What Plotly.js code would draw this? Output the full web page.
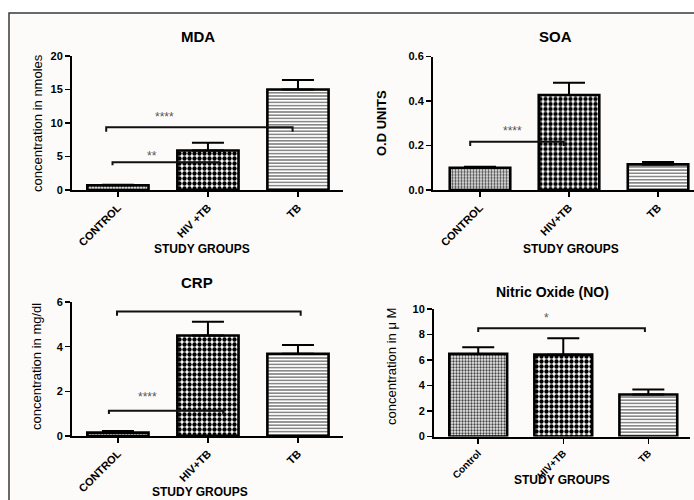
<!DOCTYPE html>
<html>
<head>
<meta charset="utf-8">
<script src="https://cdn.plot.ly/plotly-3.0.1.min.js"></script>
<style>html,body{margin:0;padding:0;background:#fff;}#chart{width:694px;height:500px;}</style>
</head>
<body>
<div id="chart"></div>
<script>
// ---------- data ----------
const groupsUpper = ['CONTROL', 'HIV +TB', 'TB'];
const groupsSOA = ['CONTROL', 'HIV+TB', 'TB'];
const groupsCRP = ['CONTROL', 'HIV+TB', 'TB'];
const groupsNO = ['Control', 'HIV+TB', 'TB'];

const mdaMean = [0.7, 5.9, 15.0];
const mdaErr  = [0.1, 1.15, 1.4];
const soaMean = [0.1, 0.427, 0.115];
const soaErr  = [0.004, 0.055, 0.011];
const crpMean = [0.15, 4.5, 3.68];
const crpErr  = [0.07, 0.62, 0.4];
const noMean  = [6.48, 6.42, 3.3];
const noErr   = [0.52, 1.29, 0.38];

// significance brackets: [xStart, xEnd, yLine, yTickEnd, label, labelX, labelY]
const mdaSig = [[-0.13, 1.94, 9.35, 8.7, '****', 0.52, 10.9], [-0.06, 1.12, 4.13, 3.7, '**', 0.38, 5.1]];
const soaSig = [[-0.11, 0.94, 0.217, 0.198, '****', 0.36, 0.263]];
const crpSig = [[-0.01, 2.03, 5.58, 5.38, '****', 0.74, 6.02], [-0.1, 1.17, 1.13, 0.99, '****', 0.33, 1.76]];
const noSig  = [[0.0, 1.96, 8.5, 8.2, '*', 0.8, 9.3]];

const titles = ['MDA', 'SOA', 'CRP', 'Nitric Oxide (NO)'];
const yTitles = ['concentration in nmoles', 'O.D UNITS', 'concentration in mg/dl', 'concentration in \u03bc M'];
const xTitle = 'STUDY GROUPS';

// ---------- helpers ----------
const W = 694, H = 500;
const px = v => v / W;
const py = v => 1 - v / H;
const idx = [0, 1, 2];
const FONT = 'Liberation Sans, Arial, sans-serif';
const NARROW = 'Liberation Sans Narrow, Arial Narrow, Liberation Sans, Arial, sans-serif';

const patCtrl = {shape: '.', size: 3, solidity: 0.45, fgcolor: '#444', bgcolor: '#ececec'};
const patHiv  = {shape: '.', size: 5, solidity: 0.6, fgcolor: '#000', bgcolor: '#fff'};
const patTb   = {shape: '-', size: 3.2, solidity: 0.35, fgcolor: '#555', bgcolor: '#fff'};

function barTrace(means, errs, xa, ya) {
  return {
    type: 'bar', x: idx, y: means, xaxis: xa, yaxis: ya, width: 0.68,
    marker: {color: '#fff', line: {color: '#000', width: 2.6},
             pattern: {shape: [patCtrl.shape, patHiv.shape, patTb.shape],
                       size: [patCtrl.size, patHiv.size, patTb.size],
                       solidity: [patCtrl.solidity, patHiv.solidity, patTb.solidity],
                       fgcolor: [patCtrl.fgcolor, patHiv.fgcolor, patTb.fgcolor],
                       bgcolor: [patCtrl.bgcolor, patHiv.bgcolor, patTb.bgcolor],
                       fillmode: 'replace'}},
    error_y: {type: 'data', symmetric: false, array: errs, arrayminus: errs.map(() => 0),
              color: '#000', thickness: 2, width: 16},
    showlegend: false, hoverinfo: 'y'
  };
}

const traces = [
  barTrace(mdaMean, mdaErr, 'x', 'y'),
  barTrace(soaMean, soaErr, 'x2', 'y2'),
  barTrace(crpMean, crpErr, 'x3', 'y3'),
  barTrace(noMean, noErr, 'x4', 'y4')
];

const annotations = [];
function addSig(sig, xa, ya) {
  sig.forEach(s => {
    traces.push({type: 'scatter', mode: 'lines', xaxis: xa, yaxis: ya,
      x: [s[0], s[0], s[1], s[1]], y: [s[3], s[2], s[2], s[3]],
      line: {color: '#111', width: 2}, showlegend: false, hoverinfo: 'skip', cliponaxis: false});
    annotations.push({xref: xa, yref: ya, x: s[5], y: s[6], text: s[4], showarrow: false,
      font: {family: FONT, size: 12, color: '#555'}});
  });
}
addSig(mdaSig, 'x', 'y');
addSig(soaSig, 'x2', 'y2');
addSig(crpSig, 'x3', 'y3');
addSig(noSig, 'x4', 'y4');

// titles & axis titles as annotations
const titlePos = [[198, 37], [555, 37], [197, 282], [552, 292]];
const yTitlePos = [[37, 123], [381, 123], [36, 367], [391, 367]];
const xTitlePos = [[202, 249], [571, 249], [200, 492], [562, 480]];
for (let i = 0; i < 4; i++) {
  annotations.push({xref: 'paper', yref: 'paper', x: px(titlePos[i][0]), y: py(titlePos[i][1]),
    text: '<b>' + titles[i] + '</b>', showarrow: false, xanchor: 'center', yanchor: 'middle',
    font: {family: FONT, size: i === 3 ? 14 : 15, color: '#000'}});
  annotations.push({xref: 'paper', yref: 'paper', x: px(yTitlePos[i][0]), y: py(yTitlePos[i][1]),
    text: i === 1 ? '<b>' + yTitles[i] + '</b>' : yTitles[i], showarrow: false, textangle: -90,
    xanchor: 'center', yanchor: 'middle',
    font: {family: NARROW, size: 13, color: '#000'}});
  annotations.push({xref: 'paper', yref: 'paper', x: px(xTitlePos[i][0]), y: py(xTitlePos[i][1]),
    text: '<b>' + xTitle + '</b>', showarrow: false, xanchor: 'center', yanchor: 'middle',
    font: {family: FONT, size: 12, color: '#000'}});
}

function xAxis(dom, range, labels, anchor, fs) {
  return {domain: dom, range: range, anchor: anchor, tickmode: 'array', tickvals: idx, ticktext: labels,
    tickangle: -45, showline: true, linecolor: '#000', linewidth: 2, ticks: 'outside', ticklen: 5,
    tickwidth: 1.5, tickcolor: '#000', showgrid: false, zeroline: false, fixedrange: true,
    tickfont: {family: FONT, size: fs, color: '#000', weight: 'bold'}};
}
function yAxis(dom, range, dtick, anchor, fmt) {
  return {domain: dom, range: range, anchor: anchor, dtick: dtick, tick0: 0, showline: true,
    linecolor: '#000', linewidth: 2, ticks: 'outside', ticklen: 5, tickwidth: 1.5, tickcolor: '#000',
    showgrid: false, zeroline: false, fixedrange: true, tickformat: fmt,
    tickfont: {family: FONT, size: 11, color: '#000', weight: 'bold'}};
}

const layout = {
  width: W, height: H, margin: {l: 0, r: 0, t: 0, b: 0},
  paper_bgcolor: '#fff', plot_bgcolor: 'rgba(0,0,0,0)', showlegend: false,
  xaxis:  xAxis([px(72), px(343)], [-0.51, 2.5], groupsUpper, 'y', 11),
  yaxis:  yAxis([py(190), py(56)], [0, 20], 5, 'x', ''),
  xaxis2: xAxis([px(433), px(694)], [-0.528, 2.404], groupsSOA, 'y2', 11),
  yaxis2: yAxis([py(190), py(56.5)], [0, 0.6], 0.2, 'x2', '.1f'),
  xaxis3: xAxis([px(72), px(343)], [-0.51, 2.5], groupsCRP, 'y3', 11),
  yaxis3: yAxis([py(436), py(302)], [0, 6], 2, 'x3', ''),
  xaxis4: xAxis([px(434), px(690)], [-0.52, 2.49], groupsNO, 'y4', 10),
  yaxis4: yAxis([py(436.5), py(309)], [0, 10], 2, 'x4', ''),
  annotations: annotations,
  shapes: [{type: 'rect', xref: 'paper', yref: 'paper', x0: px(9), x1: px(705), y0: py(512), y1: py(13),
            line: {color: '#3a3a3a', width: 1.5}, fillcolor: '#fcfbf9', layer: 'below'}]
};

Plotly.newPlot('chart', traces, layout, {staticPlot: true, displayModeBar: false});
</script>
</body>
</html>
